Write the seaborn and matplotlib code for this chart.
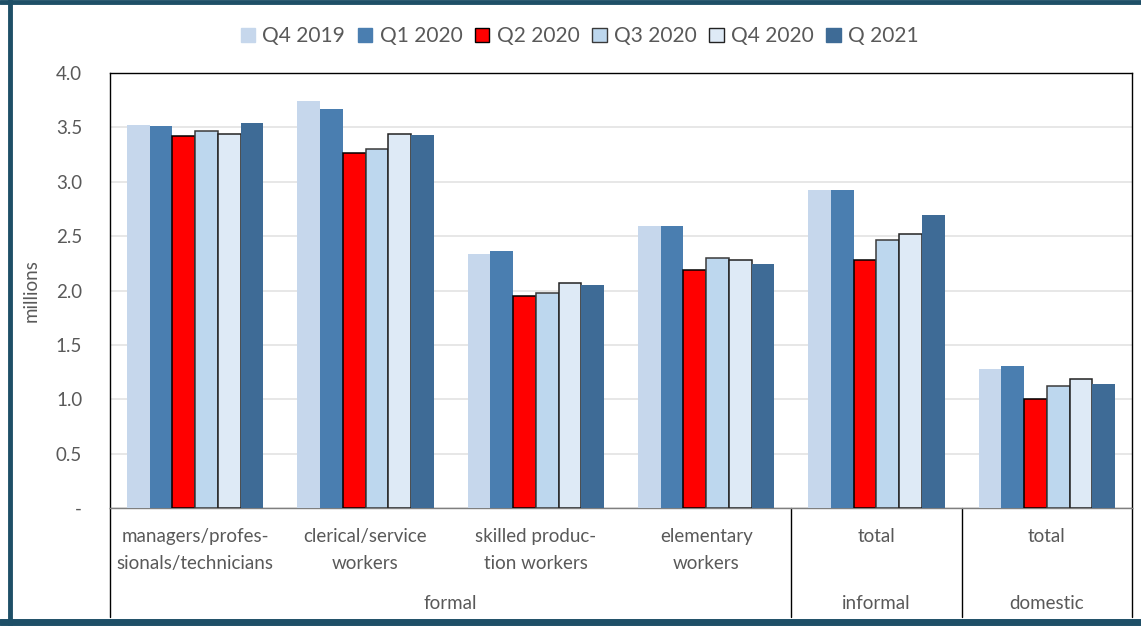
import matplotlib
matplotlib.use("Agg")
import matplotlib.pyplot as plt
from matplotlib.patches import Rectangle
from matplotlib.lines import Line2D
import matplotlib.transforms as mtransforms
import seaborn as sns
import pandas as pd

# Employment by occupation/sector, millions
categories = [
    "managers/profes-\nsionals/technicians",
    "clerical/service\nworkers",
    "skilled produc-\ntion workers",
    "elementary\nworkers",
    "total",
    "total",
]
sectors = ["formal", "informal", "domestic"]
sector_spans = [(0, 3), (4, 4), (5, 5)]
quarters = ["Q4 2019", "Q1 2020", "Q2 2020", "Q3 2020", "Q4 2020", "Q 2021"]

q4_2019 = [3.52, 3.74, 2.34, 2.59, 2.92, 1.28]
q1_2020 = [3.51, 3.67, 2.36, 2.59, 2.92, 1.31]
q2_2020 = [3.42, 3.26, 1.95, 2.19, 2.28, 1.00]
q3_2020 = [3.47, 3.30, 1.98, 2.30, 2.46, 1.12]
q4_2020 = [3.44, 3.44, 2.07, 2.28, 2.52, 1.19]
q1_2021 = [3.54, 3.43, 2.05, 2.24, 2.69, 1.14]

series = [q4_2019, q1_2020, q2_2020, q3_2020, q4_2020, q1_2021]
y_ticks = [0, 0.5, 1.0, 1.5, 2.0, 2.5, 3.0, 3.5, 4.0]
y_tick_labels = ["-", "0.5", "1.0", "1.5", "2.0", "2.5", "3.0", "3.5", "4.0"]

colors = ["#C6D7EC", "#4A7EB0", "#FF0000", "#BDD7EE", "#DEEAF6", "#3E6B96"]
edges = [None, None, "#000000", "#3A3A3A", "#222222", None]

rows = []
for qi, q in enumerate(quarters):
    for ci in range(len(categories)):
        rows.append({"cat": ci, "quarter": q, "value": series[qi][ci]})
df = pd.DataFrame(rows)

sns.set_theme(style="white")
plt.rcParams["font.family"] = ["Lato", "DejaVu Sans"]
text_color = "#595959"
fs = 13.5

fig = plt.figure(figsize=(11.41, 6.26), dpi=100)
ax = fig.add_axes([110 / 1141, 118 / 626, 1022 / 1141, 435 / 626])

sns.barplot(data=df, x="cat", y="value", hue="quarter", hue_order=quarters,
            palette=colors, saturation=1, width=0.8, ax=ax, legend=False,
            errorbar=None, zorder=3)

for cont, ec in zip(ax.containers, edges):
    for bar in cont:
        if ec is None:
            bar.set_edgecolor("none")
            bar.set_linewidth(0)
        else:
            bar.set_edgecolor(ec)
            bar.set_linewidth(1.1)

ax.set_xlim(-0.5, len(categories) - 0.5)
ax.set_ylim(0, 4.0)
ax.set_yticks(y_ticks)
ax.set_yticklabels(y_tick_labels, fontsize=fs, color=text_color)
ax.tick_params(axis="y", length=0, pad=20)
ax.set_xticks([])
ax.set_xlabel("")
ax.set_ylabel("millions", fontsize=fs, color=text_color)
ax.yaxis.set_label_coords(-0.0685, 0.5)
ax.yaxis.grid(True, color="#E3E3E3", linewidth=1.2, zorder=0)
ax.set_axisbelow(True)
for sp in ax.spines.values():
    sp.set_visible(True)
    sp.set_color("#000000")
    sp.set_linewidth(1.0)
ax.spines["bottom"].set_color("#7F7F7F")

# Multi-level category axis below the plot
trans = mtransforms.blended_transform_factory(ax.transData, ax.transAxes)
for ci, lab in enumerate(categories):
    ax.text(ci, -0.047, lab, transform=trans, ha="center", va="top",
            fontsize=fs, color=text_color, linespacing=1.7)
bottom = -0.25
for (a, b), name in zip(sector_spans, sectors):
    ax.text((a + b) / 2, -0.22, name, transform=trans, ha="center",
            va="center", fontsize=fs, color=text_color)
for xb in [-0.5, 3.5, 4.5, 5.5]:
    ax.add_line(Line2D([xb, xb], [0, bottom], transform=trans, color="#000000",
                       linewidth=1.0, clip_on=False))

# Legend
handles = [Rectangle((0, 0), 1, 1, facecolor=c, edgecolor=(e if e else c),
                     linewidth=1.0) for c, e in zip(colors, edges)]
fig.legend(handles, quarters, loc="center", bbox_to_anchor=(0.508, 0.942),
           ncol=6, frameon=False, fontsize=15, handlelength=0.7,
           handleheight=0.7, handletextpad=0.35, columnspacing=0.6,
           labelcolor=text_color)

# Outer frame of the figure
frame = "#1E4F67"
fig.add_artist(Line2D([10 / 1141, 10 / 1141], [0.0, 1.0], transform=fig.transFigure,
                      color=frame, linewidth=3.5))
fig.add_artist(Line2D([0.0, 1.0], [1 - 2 / 626, 1 - 2 / 626], transform=fig.transFigure,
                      color=frame, linewidth=3.5))
fig.add_artist(Line2D([0.0, 1.0], [4 / 626, 4 / 626], transform=fig.transFigure,
                      color=frame, linewidth=5))

fig.savefig("out.png", dpi=100)
